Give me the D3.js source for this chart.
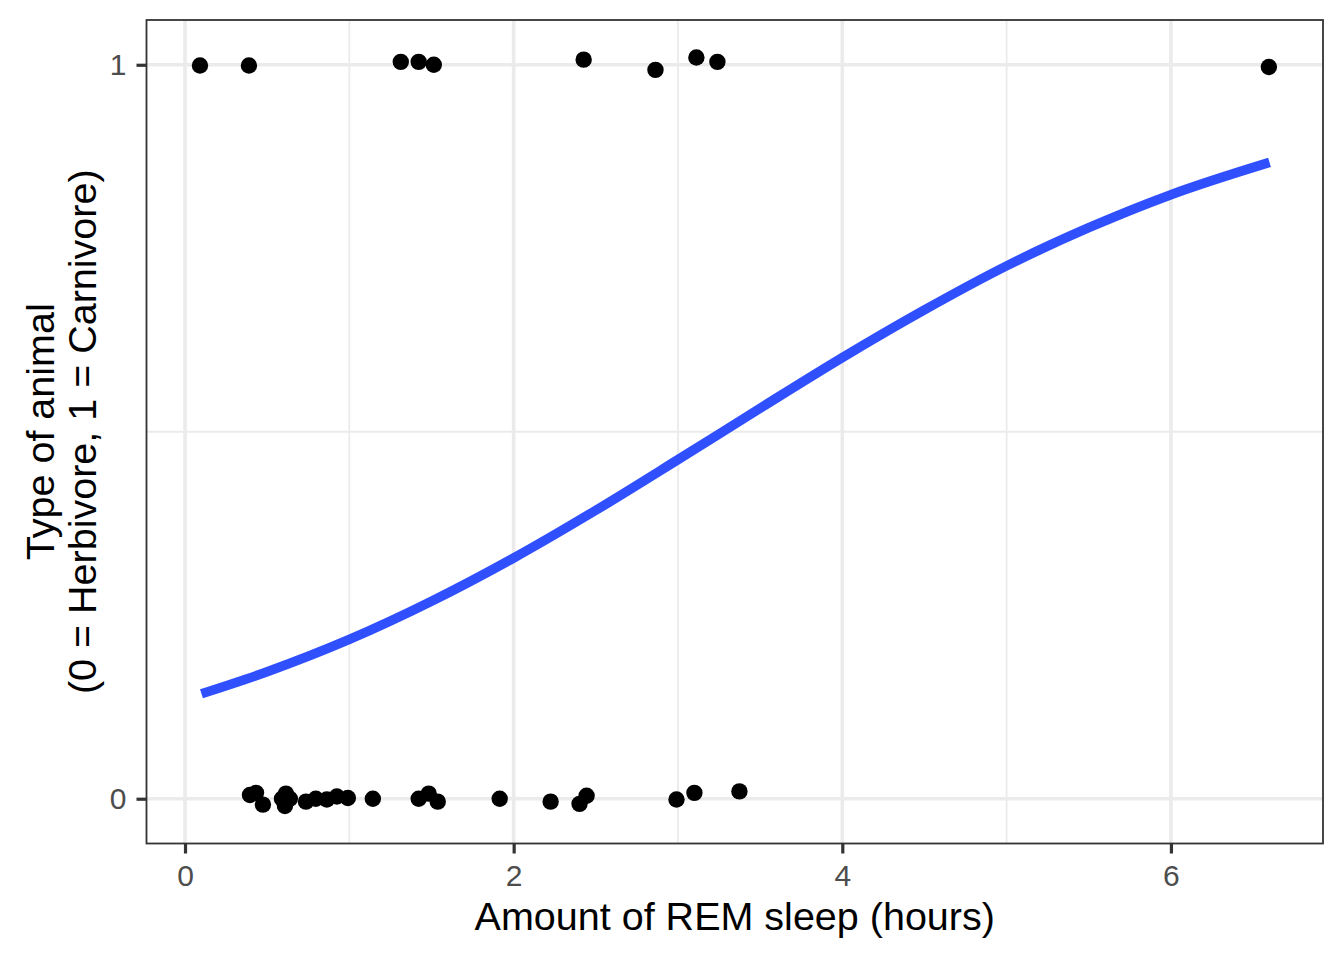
<!DOCTYPE html>
<html lang="en">
<head>
<meta charset="utf-8">
<title>REM sleep vs animal type</title>
<script src="https://d3js.org/d3.v7.min.js"></script>
<style>
  body { margin: 0; background: #fff; }
  text { font-family: "Liberation Sans", Arial, Helvetica, sans-serif; }
</style>
</head>
<body>
<div id="chart"></div>
<script>
// observed animals (jittered a little vertically, as in the picture)
var sleepRem = [0.395, 0.432, 0.474, 0.590, 0.614, 0.608, 0.638, 0.736, 0.796, 0.863,
                0.924, 0.991, 1.143, 1.422, 1.483, 1.538, 1.915, 2.225, 2.401, 2.444,
                2.991, 3.100, 3.374,
                0.091, 0.389, 1.313, 1.422, 1.514, 2.426, 2.863, 3.112, 3.240, 6.596];
var animalType = [0.005, 0.008, -0.008, 0, 0.007, -0.010, 0, -0.004, 0, -0.001,
                  0.003, 0.001, 0, 0, 0.007, -0.004, 0, -0.004, -0.007, 0.004,
                  -0.001, 0.008, 0.010,
                  0.999, 0.999, 1.004, 1.004, 1.000, 1.007, 0.993, 1.010, 1.004, 0.997];

// fitted logistic curve
var curveX = [0.1, 0.5, 1.0, 1.5, 2.0, 2.5, 3.0, 3.5, 4.0, 4.5, 5.0, 5.5, 6.0, 6.6];
var curveY = [0.143, 0.173, 0.217, 0.269, 0.328, 0.393, 0.462, 0.532, 0.601, 0.666, 0.726, 0.778, 0.823, 0.867];

var xTicks = [0, 2, 4, 6];
var xMinor = [1, 3, 5];
var yTicks = [0, 1];
var yMinor = [0.5];

var W = 1344, H = 960;
var panel = { left: 146.5, right: 1323, top: 20, bottom: 843.5 };

var svg = d3.select("#chart").append("svg")
    .attr("width", W).attr("height", H);

// ggplot-style 5% expansion
function expand(ext) {
    var pad = (ext[1] - ext[0]) * 0.05;
    return [ext[0] - pad, ext[1] + pad];
}
var xExt = d3.extent(sleepRem.concat(curveX));
var yExt = d3.extent(animalType.concat(curveY));

var x = d3.scaleLinear().domain(expand(xExt)).range([panel.left, panel.right]);
var y = d3.scaleLinear().domain(expand(yExt)).range([panel.bottom, panel.top]);

var g = svg.append("g");

// minor grid
g.selectAll(".xminor").data(xMinor).enter().append("line")
    .attr("x1", d => x(d)).attr("x2", d => x(d))
    .attr("y1", panel.top).attr("y2", panel.bottom)
    .attr("stroke", "#ebebeb").attr("stroke-width", 1.8);
g.selectAll(".yminor").data(yMinor).enter().append("line")
    .attr("y1", d => y(d)).attr("y2", d => y(d))
    .attr("x1", panel.left).attr("x2", panel.right)
    .attr("stroke", "#ebebeb").attr("stroke-width", 1.8);

// major grid
g.selectAll(".xmajor").data(xTicks).enter().append("line")
    .attr("x1", d => x(d)).attr("x2", d => x(d))
    .attr("y1", panel.top).attr("y2", panel.bottom)
    .attr("stroke", "#ebebeb").attr("stroke-width", 3.6);
g.selectAll(".ymajor").data(yTicks).enter().append("line")
    .attr("y1", d => y(d)).attr("y2", d => y(d))
    .attr("x1", panel.left).attr("x2", panel.right)
    .attr("stroke", "#ebebeb").attr("stroke-width", 3.6);

// curve
var line = d3.line()
    .x(d => x(d[0])).y(d => y(d[1]))
    .curve(d3.curveMonotoneX);
g.append("path")
    .datum(d3.zip(curveX, curveY))
    .attr("d", line)
    .attr("fill", "none")
    .attr("stroke", "#3050ff")
    .attr("stroke-width", 9.5);

// points
g.selectAll("circle").data(d3.zip(sleepRem, animalType)).enter().append("circle")
    .attr("cx", d => x(d[0])).attr("cy", d => y(d[1]))
    .attr("r", 8.2).attr("fill", "#000");

// panel border
svg.append("rect")
    .attr("x", panel.left).attr("y", panel.top)
    .attr("width", panel.right - panel.left).attr("height", panel.bottom - panel.top)
    .attr("fill", "none").attr("stroke", "#333333").attr("stroke-width", 1.8);

// axes
var xAxis = svg.append("g")
    .attr("transform", "translate(0," + panel.bottom + ")")
    .call(d3.axisBottom(x).tickValues(xTicks).tickFormat(d3.format("d")).tickSize(10).tickPadding(11));
var yAxis = svg.append("g")
    .attr("transform", "translate(" + panel.left + ",0)")
    .call(d3.axisLeft(y).tickValues(yTicks).tickFormat(d3.format("d")).tickSize(10).tickPadding(10));

[xAxis, yAxis].forEach(function (a) {
    a.select(".domain").remove();
    a.selectAll(".tick line").attr("stroke", "#333333").attr("stroke-width", 3.2);
    a.selectAll(".tick text")
        .attr("fill", "#4d4d4d")
        .style("font-size", "30px")
        .style("font-family", "'Liberation Sans', Arial, sans-serif");
});

// axis titles
svg.append("text")
    .attr("x", (panel.left + panel.right) / 2)
    .attr("y", 930)
    .attr("text-anchor", "middle")
    .style("font-size", "39.5px")
    .text("Amount of REM sleep (hours)");

var yt = svg.append("text")
    .attr("transform", "translate(54," + ((panel.top + panel.bottom) / 2) + ") rotate(-90)")
    .attr("text-anchor", "middle")
    .style("font-size", "39.5px");
yt.append("tspan").attr("x", 0).attr("dy", 0).text("Type of animal");
yt.append("tspan").attr("x", 0).attr("dy", 42).text("(0 = Herbivore, 1 = Carnivore)");
</script>
</body>
</html>
